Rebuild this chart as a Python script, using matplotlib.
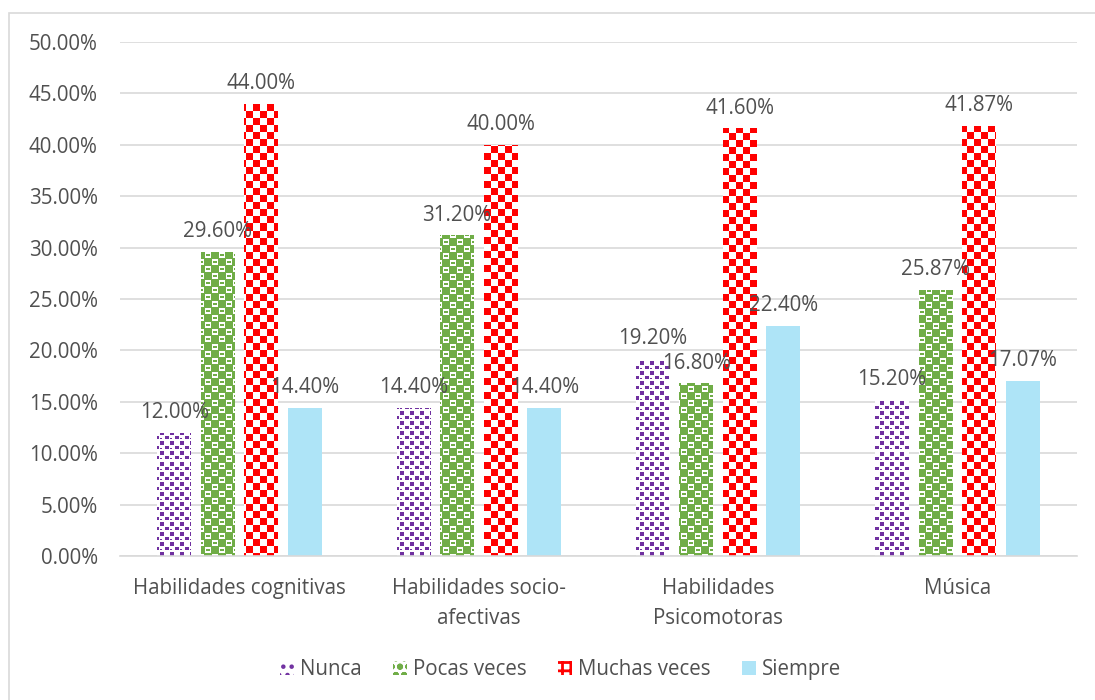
import matplotlib.pyplot as plt
import numpy as np
from matplotlib.patches import Rectangle, Patch

# data (percent)
categories = ['Habilidades cognitivas', 'Habilidades socio-\nafectivas',
              'Habilidades\nPsicomotoras', 'Música']
series = ['Nunca', 'Pocas veces', 'Muchas veces', 'Siempre']
nunca = [12.00, 14.40, 19.20, 15.20]
pocas = [29.60, 31.20, 16.80, 25.87]
muchas = [44.00, 40.00, 41.60, 41.87]
siempre = [14.40, 14.40, 22.40, 17.07]
yticks = [0, 5, 10, 15, 20, 25, 30, 35, 40, 45, 50]

values = [nunca, pocas, muchas, siempre]
colors = ['#7030A0', '#70AD47', '#FF0000', '#AEE4F7']
kinds = ['dots', 'shingle', 'checker', 'solid']

plt.rcParams['font.family'] = ['Open Sans', 'DejaVu Sans']
txt = '#505050'
grid = '#D9D9D9'
fs = 14.8

W_PX, H_PX = 957, 514


def to_rgb(hexc):
    hexc = hexc.lstrip('#')
    return np.array([int(hexc[i:i + 2], 16) / 255 for i in (0, 2, 4)])


def texture(kind, color):
    r, c = np.indices((H_PX, W_PX))
    if kind == 'checker':
        ink = (r // 7 + c // 7) % 2 == 0
    elif kind == 'dots':
        rr, cc = r % 10, c % 10
        ink = ((rr < 4) & (cc < 4)) | ((rr >= 5) & (rr < 8) & (cc >= 5) & (cc < 9)) \
            | ((rr == 7) & (cc < 2))
    elif kind == 'shingle':
        rr, cc = r % 14, c % 14
        a = (rr >= 1) & (rr < 7) & (cc >= 1) & (cc < 7) \
            & ~((rr >= 3) & (rr < 5) & (cc >= 2) & (cc < 6))
        b = (rr >= 8) & (rr < 14) & (cc >= 8) & (cc < 14) \
            & ~((rr >= 10) & (rr < 12) & (cc >= 9) & (cc < 13))
        ink = ~(a | b)
    else:
        ink = np.ones((H_PX, W_PX), bool)
    fg = to_rgb(color)
    img = np.where(ink[..., None], fg, np.ones(3))
    return img


fig = plt.figure(figsize=(10.95, 7), dpi=100)
ax = fig.add_axes([120 / 1095, 1 - 556 / 700, W_PX / 1095, H_PX / 700])

# chart border
fig.patches.append(Rectangle((9 / 1095, -0.02), 1.1, 1 - 13 / 700 + 0.02,
                             transform=fig.transFigure, fill=False,
                             edgecolor=grid, linewidth=1.2))

x = np.arange(len(categories))
step = 0.182
width = 0.142
ax.set_xlim(-0.5, 3.5)
ax.set_ylim(0, 50)

for i, (vals, col, kind) in enumerate(zip(values, colors, kinds)):
    pos = x + (i - 1.5) * step
    bars = ax.bar(pos, vals, width, color='none', edgecolor='none', zorder=2)
    if kind != 'solid':
        img = texture(kind, col)
        for b in bars:
            im = ax.imshow(img, extent=(-0.5, 3.5, 0, 50), origin='upper',
                           aspect='auto', interpolation='nearest', zorder=2)
            im.set_clip_path(b)
    else:
        for b in bars:
            b.set_facecolor(col)
    for p, v in zip(pos, vals):
        ax.annotate(f'{v:.2f}%', (p, v), xytext=(0, 7), textcoords='offset points',
                    ha='center', va='bottom', fontsize=fs, color=txt, zorder=3)

ax.set_xlim(-0.5, 3.5)
ax.set_ylim(0, 50)
ax.set_yticks(yticks)
ax.set_yticklabels([f'{t:.2f}%' for t in yticks])
ax.set_xticks(x)
ax.set_xticklabels(categories, linespacing=1.55)
ax.tick_params(length=0, labelsize=fs, labelcolor=txt)
ax.tick_params(axis='y', pad=16)
ax.tick_params(axis='x', pad=16)
ax.yaxis.grid(True, color=grid, linewidth=1.2)
ax.set_axisbelow(True)
for s in ['top', 'right', 'left']:
    ax.spines[s].set_visible(False)
ax.spines['bottom'].set_color(grid)
ax.spines['bottom'].set_linewidth(1.2)

plt.rcParams['hatch.linewidth'] = 2.0
handles = [
    Patch(facecolor='white', edgecolor=colors[0], hatch='..', linewidth=0),
    Patch(facecolor='white', edgecolor=colors[1], hatch='oo', linewidth=0),
    Patch(facecolor='white', edgecolor=colors[2], hatch='++', linewidth=0),
    Patch(facecolor=colors[3], linewidth=0),
]
fig.legend(handles, series, loc='center', bbox_to_anchor=(0.512, 0.043),
           ncol=4, frameon=False, fontsize=fs, labelcolor=txt,
           handlelength=0.7, handleheight=0.7, handletextpad=0.3,
           columnspacing=1.5)

fig.savefig('out.png', dpi=100)
